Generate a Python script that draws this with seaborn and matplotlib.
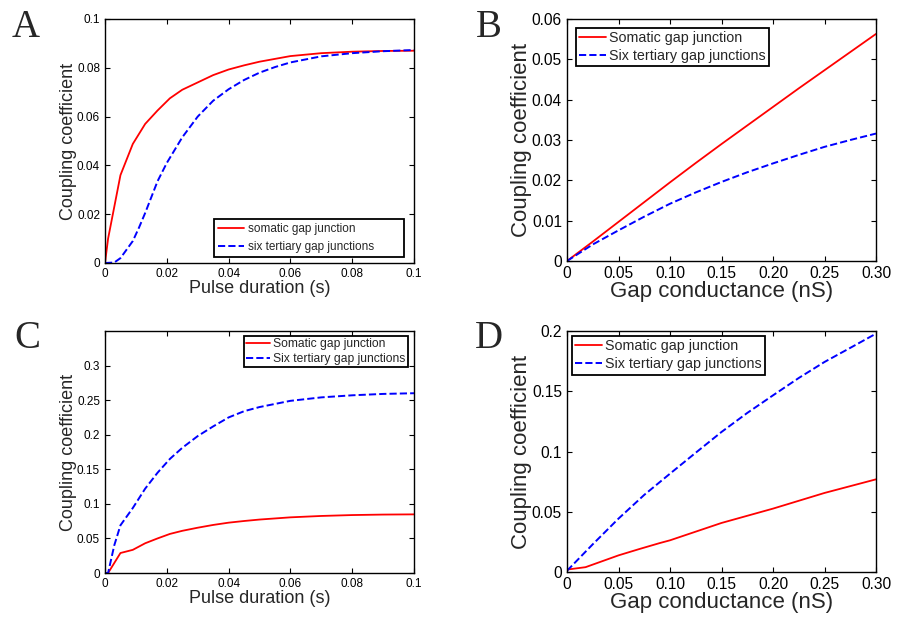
import numpy as np
import pandas as pd
import matplotlib
matplotlib.use('Agg')
import matplotlib.pyplot as plt
import seaborn as sns

# ── Données ──────────────────────────────────────────────────────────────────
a_x_som = [0, 0.001, 0.005, 0.009, 0.013, 0.017, 0.021, 0.025, 0.03, 0.035, 0.04,
           0.045, 0.05, 0.06, 0.07, 0.08, 0.09, 0.1]
a_y_som = [0, 0.010, 0.036, 0.0488, 0.057, 0.0625, 0.0675, 0.0710, 0.0740, 0.0770,
           0.0793, 0.0810, 0.0825, 0.0848, 0.0860, 0.0866, 0.0869, 0.0870]
a_x_six = [0, 0.003, 0.005, 0.007, 0.009, 0.011, 0.013, 0.015, 0.017, 0.02, 0.025,
           0.03, 0.035, 0.04, 0.045, 0.05, 0.055, 0.06, 0.07, 0.08, 0.09, 0.1]
a_y_six = [0, 0.0002, 0.002, 0.0055, 0.009, 0.0145, 0.0205, 0.027, 0.0335, 0.041,
           0.0515, 0.0600, 0.0665, 0.0712, 0.0750, 0.0780, 0.0803, 0.0822, 0.0847,
           0.0860, 0.0868, 0.0873]

b_x = [0, 0.025, 0.05, 0.075, 0.1, 0.125, 0.15, 0.175, 0.2, 0.225, 0.25, 0.275, 0.3]
b_y_som = [0, 0.0048, 0.0097, 0.0146, 0.0195, 0.0243, 0.0290, 0.0336, 0.0382,
           0.0428, 0.0473, 0.0518, 0.0563]
b_y_six = [0, 0.0041, 0.0076, 0.0110, 0.0142, 0.0170, 0.0196, 0.0220, 0.0242,
           0.0263, 0.0283, 0.0300, 0.0316]

c_x_som = [0, 0.001, 0.005, 0.009, 0.013, 0.017, 0.021, 0.025, 0.03, 0.035, 0.04,
           0.045, 0.05, 0.06, 0.07, 0.08, 0.09, 0.1]
c_y_som = [0, 0.0, 0.0289, 0.0335, 0.043, 0.050, 0.0565, 0.061, 0.0655, 0.0695,
           0.0728, 0.0752, 0.0773, 0.0805, 0.0825, 0.0838, 0.0845, 0.0848]
c_x_six = [0, 0.001, 0.002, 0.003, 0.005, 0.009, 0.013, 0.017, 0.021, 0.025, 0.03,
           0.035, 0.04, 0.045, 0.05, 0.06, 0.07, 0.08, 0.09, 0.1]
c_y_six = [0, 0.0, 0.02, 0.04, 0.069, 0.094, 0.122, 0.145, 0.165, 0.181, 0.198,
           0.212, 0.225, 0.234, 0.240, 0.249, 0.254, 0.257, 0.259, 0.260]

d_x_som = [0, 0.018, 0.05, 0.07, 0.09, 0.1, 0.15, 0.2, 0.25, 0.3]
d_y_som = [0.002, 0.004, 0.0138, 0.019, 0.024, 0.0263, 0.0407, 0.0526, 0.0656, 0.0769]
d_x_six = [0, 0.025, 0.05, 0.075, 0.1, 0.125, 0.15, 0.175, 0.2, 0.225, 0.25, 0.275, 0.3]
d_y_six = [0.001, 0.023, 0.0443, 0.064, 0.0816, 0.099, 0.1162, 0.132, 0.1466, 0.161,
           0.1743, 0.186, 0.1978]

pulse_ticks = [0, 0.02, 0.04, 0.06, 0.08, 0.1]
pulse_labels = ['0', '0.02', '0.04', '0.06', '0.08', '0.1']
gap_ticks = [0, 0.05, 0.10, 0.15, 0.20, 0.25, 0.30]
gap_labels = ['0', '0.05', '0.10', '0.15', '0.20', '0.25', '0.30']
a_yticks = [0, 0.02, 0.04, 0.06, 0.08, 0.1]
a_ylabels = ['0', '0.02', '0.04', '0.06', '0.08', '0.1']
b_yticks = [0, 0.01, 0.02, 0.03, 0.04, 0.05, 0.06]
b_ylabels = ['0', '0.01', '0.02', '0.03', '0.04', '0.05', '0.06']
c_yticks = [0, 0.05, 0.1, 0.15, 0.2, 0.25, 0.3]
c_ylabels = ['0', '0.05', '0.1', '0.15', '0.2', '0.25', '0.3']
d_yticks = [0, 0.05, 0.1, 0.15, 0.2]
d_ylabels = ['0', '0.05', '0.1', '0.15', '0.2']

# ── Style ────────────────────────────────────────────────────────────────────
sns.set_style('ticks')
plt.rcParams['font.family'] = ['Liberation Sans', 'DejaVu Sans']
RED, BLUE = '#ff0000', '#0000ff'

W, H = 899, 617
fig = plt.figure(figsize=(W / 100, H / 100), dpi=100)


def px_axes(left, top, right, bottom):
    return fig.add_axes([left / W, 1 - bottom / H, (right - left) / W, (bottom - top) / H])


def draw(ax, xs, ys, xt, yt, labels, xlim, ylim, xticks, xtl, yticks, ytl,
         xlabel, tick_fs, lab_fs, leg_fs, leg_kw):
    df_s = pd.DataFrame({'x': xs, 'y': ys})
    df_t = pd.DataFrame({'x': xt, 'y': yt})
    sns.lineplot(data=df_s, x='x', y='y', ax=ax, color=RED, lw=1.3, label=labels[0])
    sns.lineplot(data=df_t, x='x', y='y', ax=ax, color=BLUE, lw=1.4, ls='--',
                 dashes=(2.6, 2.0), label=labels[1])
    ax.set_xlim(*xlim)
    ax.set_ylim(*ylim)
    ax.set_xticks(xticks)
    ax.set_xticklabels(xtl)
    ax.set_yticks(yticks)
    ax.set_yticklabels(ytl)
    ax.tick_params(direction='in', length=3.5, width=0.8, top=True, right=True,
                   labelsize=tick_fs, pad=3.6, colors='black')
    for s in ax.spines.values():
        s.set_visible(True)
        s.set_color('black')
        s.set_linewidth(1.0)
    ax.set_xlabel(xlabel, fontsize=lab_fs, labelpad=0)
    ax.set_ylabel('Coupling coefficient', fontsize=lab_fs, labelpad=0)
    opts = dict(borderaxespad=0, fontsize=leg_fs, frameon=True, fancybox=False,
                framealpha=1, edgecolor='black')
    opts.update(leg_kw)
    leg = ax.legend(**opts)
    leg.get_frame().set_linewidth(1.3)


axA = px_axes(105, 19, 414, 263)
draw(axA, a_x_som, a_y_som, a_x_six, a_y_six,
     ['somatic gap junction', 'six tertiary gap junctions'],
     (0, 0.1), (0, 0.1), pulse_ticks, pulse_labels, a_yticks, a_ylabels,
     'Pulse duration (s)', 8.5, 13, 8.5,
     dict(loc='lower left', bbox_to_anchor=(0.353, 0.025, 0.615, 0.16), mode='expand',
          handlelength=2.2, handletextpad=0.34, borderpad=0.3, labelspacing=0.55))

axB = px_axes(567, 19, 876, 261)
draw(axB, b_x, b_y_som, b_x, b_y_six,
     ['Somatic gap junction', 'Six tertiary gap junctions'],
     (0, 0.3), (0, 0.06), gap_ticks, gap_labels, b_yticks, b_ylabels,
     'Gap conductance (nS)', 11.2, 16, 10.3,
     dict(loc='upper left', bbox_to_anchor=(0.028, 0.963), handlelength=1.85,
          handletextpad=0.27, borderpad=0.24, labelspacing=0.25))

axC = px_axes(105, 331, 414, 573)
draw(axC, c_x_som, c_y_som, c_x_six, c_y_six,
     ['Somatic gap junction', 'Six tertiary gap junctions'],
     (0, 0.1), (0, 0.35), pulse_ticks, pulse_labels, c_yticks, c_ylabels,
     'Pulse duration (s)', 8.5, 13, 8.7,
     dict(loc='upper right', bbox_to_anchor=(0.98, 0.979), handlelength=1.95,
          handletextpad=0.25, borderpad=0.2, labelspacing=0.2))

axD = px_axes(567, 331, 876, 572)
draw(axD, d_x_som, d_y_som, d_x_six, d_y_six,
     ['Somatic gap junction', 'Six tertiary gap junctions'],
     (0, 0.3), (0, 0.2), gap_ticks, gap_labels, d_yticks, d_ylabels,
     'Gap conductance (nS)', 11.2, 16, 10.3,
     dict(loc='upper left', bbox_to_anchor=(0.015, 0.979), handlelength=1.85,
          handletextpad=0.27, borderpad=0.24, labelspacing=0.25))

# Lettres des panneaux
for letter, (x, y) in zip('ABCD', [(12, 37), (476, 37), (14, 348), (475, 348)]):
    fig.text(x / W, 1 - y / H, letter, fontsize=28, family='Liberation Serif',
             ha='left', va='baseline')

fig.savefig('out.png', dpi=100)
